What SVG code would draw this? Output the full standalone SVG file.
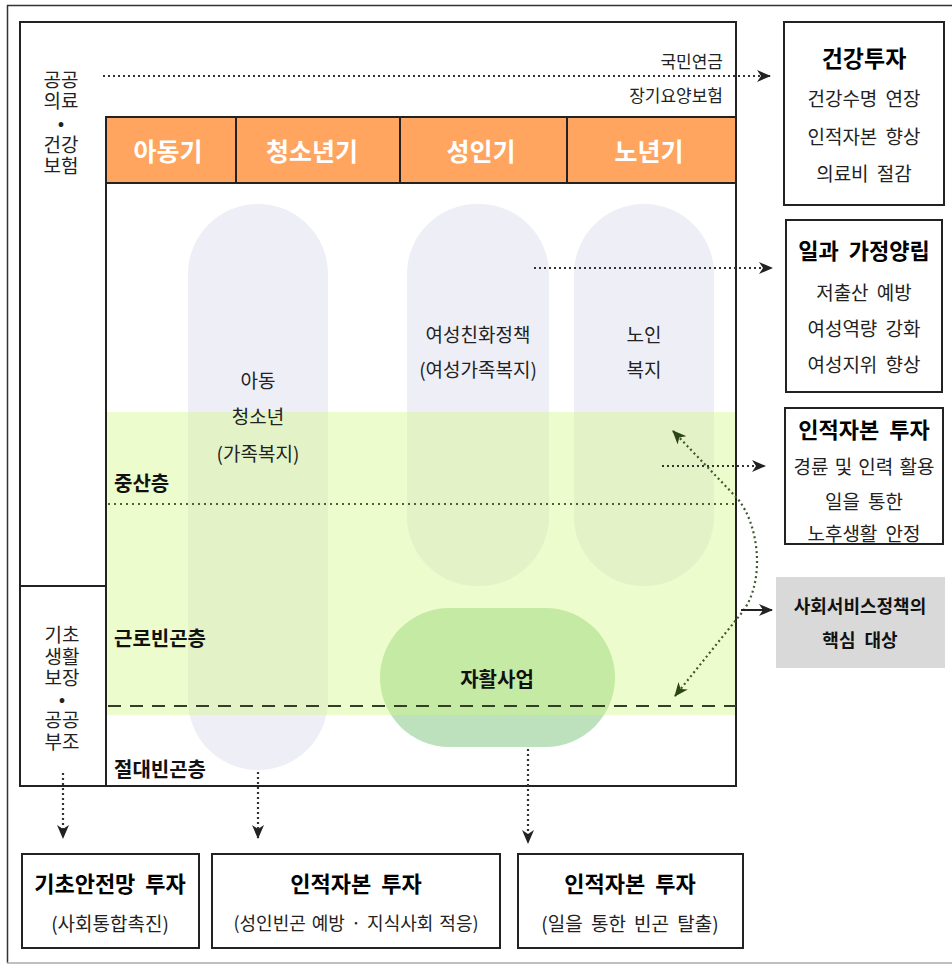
<svg xmlns="http://www.w3.org/2000/svg" width="952" height="965" viewBox="0 0 952 965">
<style>
text{font-family:"Noto Sans CJK KR","Noto Sans",sans-serif;fill:#222;dominant-baseline:central}
.c{text-anchor:middle}
.r{text-anchor:end}
.body{font-size:19px;word-spacing:4px}
.ttl{font-size:22px;font-weight:bold;fill:#000;word-spacing:5px}
.hd{font-size:25px;font-weight:bold;fill:#fff}
.lv{font-size:20px;font-weight:bold;fill:#111}
.side{font-size:19px}
.box{fill:#fff;stroke:#222;stroke-width:2}
.dot{fill:none;stroke:#333;stroke-width:2.2;stroke-dasharray:2 3}
.dotg{fill:none;stroke:#3f5a2a;stroke-width:2.2;stroke-dasharray:2 3}
</style>
<defs>
<marker id="ah" markerUnits="userSpaceOnUse" markerWidth="14" markerHeight="12" refX="13" refY="6" orient="auto-start-reverse">
<path d="M0,0 L14,6 L0,12 L4,6 Z" fill="#222"/>
</marker>
<marker id="ahg" markerUnits="userSpaceOnUse" markerWidth="14" markerHeight="12" refX="13" refY="6" orient="auto-start-reverse">
<path d="M0,0 L14,6 L0,12 L4,6 Z" fill="#2b4515"/>
</marker>
</defs>
<rect width="952" height="965" fill="#fff"/>
<!-- outer frame -->
<line x1="7" y1="5.5" x2="952" y2="5.5" stroke="#333" stroke-width="1.5"/>
<line x1="7.5" y1="5" x2="7.5" y2="963" stroke="#333" stroke-width="1.5"/>
<line x1="7" y1="963" x2="952" y2="963" stroke="#aaa" stroke-width="1.5"/>

<g id="background">
<rect id="pill-child" x="188" y="204" width="140" height="566" rx="70" fill="#eeeef7"/>
<rect id="pill-women" x="407" y="204" width="142" height="382" rx="70" fill="#eeeef7"/>
<rect id="pill-elder" x="574" y="204" width="140" height="382" rx="70" fill="#eeeef7"/>
<rect id="pill-self" x="380" y="608" width="235" height="139" rx="69.5" fill="#bce1bc"/>
<rect id="band" x="107" y="412" width="628" height="303" fill="#d2f780" fill-opacity="0.4"/>
</g>

<g id="frame">
<rect x="20" y="22" width="716" height="764" fill="none" stroke="#222" stroke-width="2"/>
<line x1="106" y1="117" x2="106" y2="786" stroke="#222" stroke-width="2"/>
<line x1="106" y1="117" x2="736" y2="117" stroke="#222" stroke-width="2"/>
<line x1="20" y1="586" x2="106" y2="586" stroke="#222" stroke-width="2"/>
</g>

<g id="header">
<rect x="106" y="117" width="630" height="66" fill="#ffa55f" stroke="#222" stroke-width="2"/>
<line x1="236" y1="117" x2="236" y2="183" stroke="#222" stroke-width="2"/>
<line x1="400" y1="117" x2="400" y2="183" stroke="#222" stroke-width="2"/>
<line x1="567" y1="117" x2="567" y2="183" stroke="#222" stroke-width="2"/>
<text class="hd c" x="168" y="150">아동기</text>
<text class="hd c" x="312" y="150">청소년기</text>
<text class="hd c" x="481" y="150">성인기</text>
<text class="hd c" x="649" y="150">노년기</text>
</g>

<g id="side-health">
<text class="side c" x="61" y="78"><tspan x="61" y="78">공공</tspan><tspan x="61" y="99">의료</tspan><tspan x="61" y="121">•</tspan><tspan x="61" y="143">건강</tspan><tspan x="61" y="164">보험</tspan></text>
</g>
<g id="side-basic">
<text class="side c" x="62" y="633"><tspan x="62" y="633">기초</tspan><tspan x="62" y="655">생활</tspan><tspan x="62" y="676">보장</tspan><tspan x="62" y="697">•</tspan><tspan x="62" y="718">공공</tspan><tspan x="62" y="740">부조</tspan></text>
</g>

<g id="pension-labels">
<text class="r" x="723" y="60" style="font-size:17px">국민연금</text>
<text class="r" x="723" y="94" style="font-size:17px">장기요양보험</text>
</g>

<g id="node-child">
<text class="body c" x="258" y="379">아동</text>
<text class="body c" x="258" y="415">청소년</text>
<text class="body c" x="258" y="452">(가족복지)</text>
</g>
<g id="node-women">
<text class="body c" x="478" y="333">여성친화정책</text>
<text class="body c" x="478" y="368">(여성가족복지)</text>
</g>
<g id="node-elder">
<text class="body c" x="644" y="333">노인</text>
<text class="body c" x="644" y="368">복지</text>
</g>
<g id="node-self">
<text class="lv c" x="497" y="678">자활사업</text>
</g>

<g id="levels">
<text class="lv" x="114" y="482">중산층</text>
<text class="lv" x="114" y="637">근로빈곤층</text>
<text class="lv" x="114" y="768">절대빈곤층</text>
<line x1="108" y1="504" x2="736" y2="504" stroke="#4e5e3c" stroke-width="2" stroke-dasharray="2 4"/>
<line x1="108" y1="706" x2="736" y2="706" stroke="#333d28" stroke-width="2" stroke-dasharray="13 9"/>
</g>

<g id="box-health">
<rect class="box" x="784" y="22" width="160" height="183"/>
<text class="ttl c" x="864" y="57" style="font-size:23px">건강투자</text>
<text class="body c" x="864" y="97">건강수명 연장</text>
<text class="body c" x="864" y="135">인적자본 향상</text>
<text class="body c" x="864" y="172">의료비 절감</text>
</g>
<g id="box-family">
<rect class="box" x="786" y="220" width="156" height="172"/>
<text class="ttl c" x="864" y="249">일과 가정양립</text>
<text class="body c" x="864" y="291">저출산 예방</text>
<text class="body c" x="864" y="327">여성역량 강화</text>
<text class="body c" x="864" y="363">여성지위 향상</text>
</g>
<g id="box-human">
<rect class="box" x="785" y="408" width="158" height="136"/>
<text class="ttl c" x="864" y="428">인적자본 투자</text>
<text class="body c" x="864" y="465" style="word-spacing:2px">경륜 및 인력 활용</text>
<text class="body c" x="864" y="500">일을 통한</text>
<text class="body c" x="864" y="532">노후생활 안정</text>
</g>
<g id="box-target">
<rect x="776" y="577" width="169" height="91" fill="#d9d9d9"/>
<text class="lv c" x="860" y="605" style="font-size:18px">사회서비스정책의</text>
<text class="lv c" x="860" y="639" style="font-size:18px;word-spacing:5px">핵심 대상</text>
</g>

<g id="box-safety">
<rect class="box" x="22" y="854" width="177" height="94"/>
<text class="ttl c" x="110" y="882">기초안전망 투자</text>
<text class="body c" x="110" y="922">(사회통합촉진)</text>
</g>
<g id="box-human2">
<rect class="box" x="212" y="854" width="288" height="94"/>
<text class="ttl c" x="356" y="882">인적자본 투자</text>
<text class="body c" x="356" y="922" style="font-size:18px;word-spacing:2px">(성인빈곤 예방 · 지식사회 적응)</text>
</g>
<g id="box-human3">
<rect class="box" x="518" y="854" width="225" height="94"/>
<text class="ttl c" x="630" y="882">인적자본 투자</text>
<text class="body c" x="630" y="922">(일을 통한 빈곤 탈출)</text>
</g>

<g id="connectors">
<line class="dot" x1="103" y1="76" x2="770" y2="76" marker-end="url(#ah)"/>
<line class="dot" x1="534" y1="268" x2="772" y2="268" marker-end="url(#ah)"/>
<line class="dot" x1="662" y1="466" x2="765" y2="466" marker-end="url(#ah)"/>
<path class="dotg" d="M673,431 L737,498 C760,525 766,585 740,615 L675,696" marker-start="url(#ahg)" marker-end="url(#ahg)"/>
<line x1="741" y1="610" x2="772" y2="610" stroke="#222" stroke-width="2" marker-end="url(#ah)"/>
<line class="dot" x1="63" y1="773" x2="63" y2="838" marker-end="url(#ah)"/>
<line class="dot" x1="258" y1="772" x2="258" y2="838" marker-end="url(#ah)"/>
<line class="dot" x1="528" y1="749" x2="528" y2="843" marker-end="url(#ah)"/>
</g>
</svg>
